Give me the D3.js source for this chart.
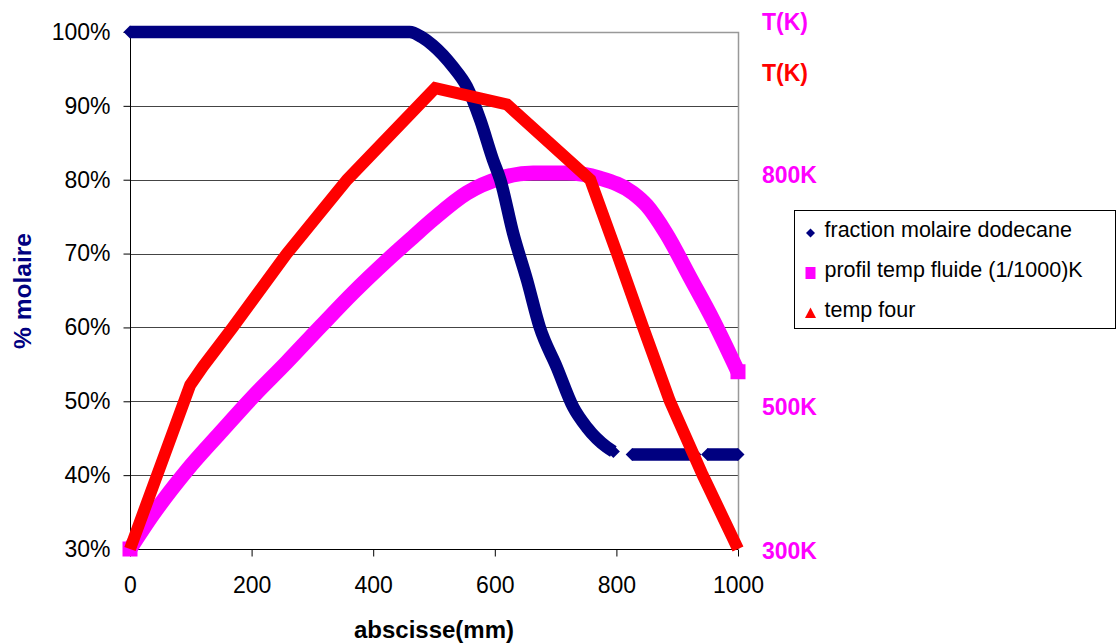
<!DOCTYPE html>
<html>
<head>
<meta charset="utf-8">
<script src="https://cdn.jsdelivr.net/npm/d3@7"></script>
<style>
  body { margin: 0; background: #fff; }
  svg { display: block; font-family: Arial, "Liberation Sans", sans-serif; }
</style>
</head>
<body>
<script>
// abscisse (mm) and values read on the left axis (fraction); null = gap between runs
const dodecaneX = [0, 100, 200, 300, 400, 460, 480, 498, 531, 554, 576, 597, 609, 630, 653, 674, 702, 729, 751, 784, 795, null, 826, 880, 929, null, 950, 1000];
const dodecaneY = [1, 1, 1, 1, 1, 1, 0.993, 0.982, 0.953, 0.926, 0.881, 0.827, 0.80, 0.728, 0.664, 0.60, 0.546, 0.492, 0.465, 0.438, 0.432, null, 0.428, 0.428, 0.428, null, 0.428, 0.428];

const fluideX = [0, 38, 94, 148, 202, 258, 312, 367, 423, 465, 498, 554, 609, 663, 718, 773, 827, 850, 882, 921, 959, 1000];
const fluideY = [0.30, 0.347, 0.407, 0.457, 0.506, 0.553, 0.60, 0.647, 0.691, 0.722, 0.746, 0.782, 0.802, 0.809, 0.809, 0.802, 0.782, 0.765, 0.727, 0.668, 0.61, 0.54];

const fourX = [0, 99, 120, 169, 258, 357, 502, 620, 757, 801, 844, 888, 942, 1000];
const fourY = [0.30, 0.522, 0.547, 0.60, 0.70, 0.80, 0.924, 0.902, 0.80, 0.70, 0.60, 0.50, 0.40, 0.30];

const yTicks = [0.3, 0.4, 0.5, 0.6, 0.7, 0.8, 0.9, 1.0];
const xTicks = [0, 200, 400, 600, 800, 1000];
const rightLabels = [
  { text: "T(K)", color: "#ff00ff", v: 1.0135 },
  { text: "T(K)", color: "#ff0000", v: 0.944 },
  { text: "800K", color: "#ff00ff", v: 0.807 },
  { text: "500K", color: "#ff00ff", v: 0.492 },
  { text: "300K", color: "#ff00ff", v: 0.297 }
];
const legendLabels = ["fraction molaire dodecane", "profil temp fluide (1/1000)K", "temp four"];
const legendColors = ["#000080", "#ff00ff", "#ff0000"];

const width = 1117, height = 643;
const x = d3.scaleLinear().domain([0, 1000]).range([130, 738]);
const y = d3.scaleLinear().domain([0.3, 1]).range([549, 32]);

const svg = d3.select("body").append("svg")
  .attr("width", width)
  .attr("height", height);

// gridlines
svg.append("g")
  .selectAll("line")
  .data(yTicks.slice(1, -1))
  .join("line")
  .attr("x1", x(0)).attr("x2", x(1000))
  .attr("y1", d => Math.round(y(d)) + 0.5).attr("y2", d => Math.round(y(d)) + 0.5)
  .attr("stroke", "#444");

// top and right border of the plot area
svg.append("path")
  .attr("d", `M${x(0)},${y(1) + 0.5}H${x(1000) + 0.5}V${y(0.3)}`)
  .attr("fill", "none")
  .attr("stroke", "#999")
  .attr("stroke-width", 1.5);

// axes
const yAxis = svg.append("g")
  .attr("transform", `translate(${x(0) + 0.5},0)`)
  .call(d3.axisLeft(y).tickValues(yTicks).tickFormat(d3.format(".0%")).tickSize(7).tickPadding(13));
const xAxis = svg.append("g")
  .attr("transform", `translate(0,${y(0.3) + 0.5})`)
  .call(d3.axisBottom(x).tickValues(xTicks).tickFormat(d3.format("d")).tickSize(7).tickPadding(20));

[yAxis, xAxis].forEach(g => {
  g.select(".domain").attr("stroke", "#000");
  g.selectAll(".tick line").attr("stroke", "#000");
  g.selectAll(".tick text").attr("font-size", 23).attr("fill", "#000")
    .attr("font-family", "Arial, 'Liberation Sans', sans-serif");
});
xAxis.select(".domain").attr("d", `M${x(0)},0H${x(1000)}`);
yAxis.select(".domain").attr("d", `M0,${y(1)}V${y(0.3)}`);

// series
const zip = (xs, ys) => xs.map((d, i) => [d, ys[i]]);
const smooth = d3.line()
  .defined(d => d[0] !== null)
  .curve(d3.curveMonotoneX)
  .x(d => x(d[0])).y(d => y(d[1]));
const straight = d3.line()
  .x(d => x(d[0])).y(d => y(d[1]));

const fluide = zip(fluideX, fluideY);
const dodecane = zip(dodecaneX, dodecaneY);
const four = zip(fourX, fourY);

const diamond = (w, h) => `M${-w},0L0,${-h}L${w},0L0,${h}Z`;

svg.append("path").datum(fluide)
  .attr("d", smooth).attr("fill", "none")
  .attr("stroke", "#ff00ff").attr("stroke-width", 15).attr("stroke-linejoin", "round");
svg.append("g").selectAll("rect")
  .data([fluide[0], fluide[fluide.length - 1]])
  .join("rect")
  .attr("x", d => x(d[0]) - 7.5).attr("y", d => y(d[1]) - 7.5)
  .attr("width", 15).attr("height", 15).attr("fill", "#ff00ff");

svg.append("path").datum(dodecane)
  .attr("d", smooth).attr("fill", "none")
  .attr("stroke", "#000080").attr("stroke-width", 12.5).attr("stroke-linejoin", "round");
// diamond tips at the ends of each run
const ends = dodecane.filter((d, i) => d[0] !== null &&
  (i === 0 || i === dodecane.length - 1 || dodecane[i - 1][0] === null || dodecane[i + 1][0] === null));
svg.append("g").selectAll("path")
  .data(ends)
  .join("path")
  .attr("transform", d => `translate(${x(d[0])},${y(d[1])})`)
  .attr("d", diamond(6.5, 6.5))
  .attr("fill", "#000080");

svg.append("path").datum(four)
  .attr("d", straight).attr("fill", "none")
  .attr("stroke", "#ff0000").attr("stroke-width", 12).attr("stroke-linejoin", "miter");

// right-hand labels
svg.append("g")
  .selectAll("text")
  .data(rightLabels)
  .join("text")
  .attr("x", 762)
  .attr("y", d => y(d.v))
  .attr("dy", "0.35em")
  .attr("font-size", 23).attr("font-weight", "bold")
  .attr("fill", d => d.color)
  .text(d => d.text);

// axis titles
svg.append("text")
  .attr("x", 434).attr("y", 638)
  .attr("text-anchor", "middle")
  .attr("font-size", 24).attr("font-weight", "bold")
  .attr("fill", "#000")
  .text("abscisse(mm)");
svg.append("text")
  .attr("transform", "translate(31,291) rotate(-90)")
  .attr("text-anchor", "middle")
  .attr("font-size", 24.5).attr("font-weight", "bold")
  .attr("fill", "#000080")
  .text("% molaire");

// legend
const legend = svg.append("g").attr("transform", "translate(794.5,210.5)");
legend.append("rect")
  .attr("width", 321).attr("height", 118)
  .attr("fill", "#fff").attr("stroke", "#000");
const markers = [
  diamond(4.5, 4.5),
  "M-5,-6H5V6H-5Z",
  "M0,-5.5L5.5,5L-5.5,5Z"
];
const item = legend.selectAll("g")
  .data(legendLabels)
  .join("g")
  .attr("transform", (d, i) => `translate(0,${26.5 + i * 40})`);
item.append("path")
  .attr("transform", "translate(16,-4)")
  .attr("d", (d, i) => markers[i])
  .attr("fill", (d, i) => legendColors[i]);
item.append("text")
  .attr("x", 30)
  .attr("font-size", 21.5)
  .attr("fill", "#000")
  .text(d => d);
</script>
</body>
</html>
